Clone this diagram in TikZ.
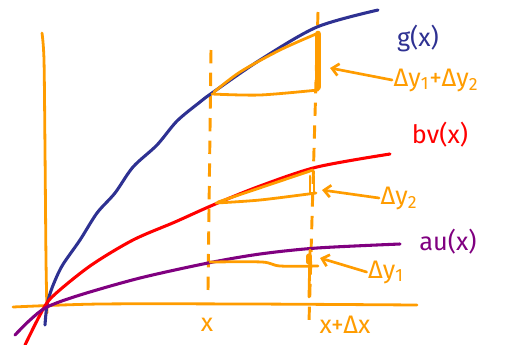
\documentclass[tikz,border=0pt]{standalone}
\usepackage{fontspec}
\setmainfont{Fira Sans}
\usetikzlibrary{arrows.meta}
\definecolor{orng}{HTML}{FF9C00}
\definecolor{gblue}{HTML}{2E3192}
\definecolor{vred}{HTML}{FF0000}
\definecolor{upurp}{HTML}{800080}
\begin{document}
\begin{tikzpicture}[x=0.75pt,y=-0.75pt,
  curve/.style={line width=2.3pt,line cap=round,line join=round},
  ora/.style={orng,line width=2.1pt,line cap=round,line join=round},
  dashv/.style={orng,line width=2.2pt,dash pattern=on 10pt off 7pt},
  lbl/.style={font=\fontsize{19}{20}\selectfont,inner sep=1pt},
  ptr/.style={orng,line width=2pt,line cap=round,{Straight Barb[length=5pt,width=9pt]}-}]
\useasboundingbox (0,0) rectangle (506,344);
% axes
\draw[ora] plot[smooth] coordinates {(42,33) (44,60) (45,150) (46,260) (47,313)};
\draw[ora] plot[smooth] coordinates {(13,307) (100,304) (250,304) (417,305)};
% dashed verticals
\draw[dashv] (211,50) -- (208,290);
\draw[dashv] (318,12) -- (309,322);
% curves
\draw[curve,gblue] plot[smooth] coordinates {(45,325) (47,305) (52,288) (62,266) (80,240) (97,213) (115,193) (133,167) (157,145) (177,121) (200,102) (212,93) (260,60) (317,27) (378,10)};
\draw[curve,vred] plot[smooth] coordinates {(25,345) (40,315) (52,297) (90,266) (133,240) (175,222) (213,205) (260,186) (317,167) (390,154)};
\draw[curve,upurp] plot[smooth] coordinates {(15,335) (30,320) (47,307) (80,295) (140,278) (208,263) (260,254) (317,248) (400,244)};
% top triangle
\draw[ora] plot[smooth] coordinates {(212,94) (260,95) (318,90)};
\draw[ora] plot[smooth] coordinates {(214,92) (240,72) (280,50) (316,34)};
\draw[orng,line width=5pt,line cap=round] (318,34) -- (318,87);
% middle triangle
\draw[ora] plot[smooth] coordinates {(216,203) (260,200) (316,193)};
\draw[ora] (218,202) -- (313,170);
\draw[ora] (310,176) -- (310,193);
\draw[ora] (314,176) -- (314,193);
% bottom triangle
\draw[ora] plot[smooth] coordinates {(210,262) (262,262) (280,266) (318,266)};
\draw[ora] (310,250) -- (309,297);
\draw[orng,line width=4pt,line cap=round] (309,256) -- (309,262);
% labels
\node[lbl,text=gblue] (g) at (418,38) {g(x)};
\node[lbl,text=vred] (bv) at (440,135) {bv(x)};
\node[lbl,text=upurp] (au) at (448,242) {au(x)};
\node[lbl,text=orng] (d12) at (436,80) {Δy\textsubscript{1}+Δy\textsubscript{2}};
\node[lbl,text=orng] (d2) at (399,198) {Δy\textsubscript{2}};
\node[lbl,text=orng] (d1) at (386,272) {Δy\textsubscript{1}};
\node[lbl,text=orng] (xl) at (207,325) {x};
\node[lbl,text=orng] (xdx) at (345,325) {x+Δx};
% pointers
\coordinate (p12) at (330,68);
\coordinate (p2) at (322,190);
\coordinate (p1) at (320,258);
\draw[ptr] (p12) -- (d12.west);
\draw[ptr] (p2) -- (d2.west);
\draw[ptr] (p1) -- (d1.west);
\end{tikzpicture}
\end{document}
